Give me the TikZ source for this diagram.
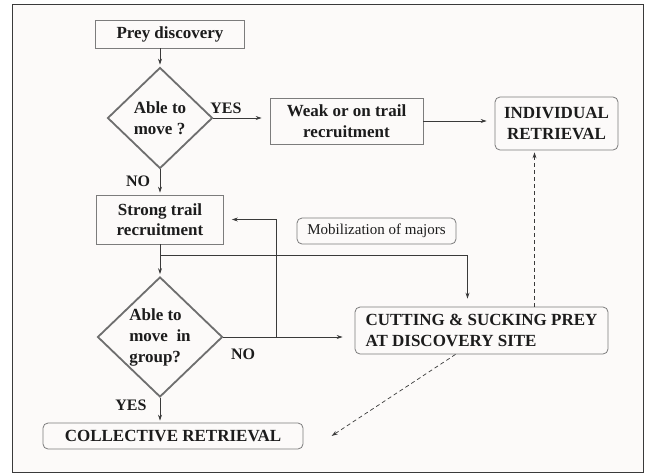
\documentclass[tikz,border=0pt]{standalone}
\usepackage{fontspec}
\setmainfont{Liberation Serif}
\usetikzlibrary{arrows.meta,shapes.geometric,calc}
\definecolor{paper}{HTML}{FCFAF9}
\definecolor{ink}{HTML}{1C1C1C}
\definecolor{wire}{HTML}{3A3A3A}
\definecolor{edgegray}{HTML}{7C7C7C}
\definecolor{rhomb}{HTML}{6E6E6E}
\tikzset{
  sqbox/.style={draw=edgegray,line width=0.8pt,align=center,inner sep=2pt,
                text=ink,font=\fontsize{17}{20.5}\selectfont\bfseries},
  rndbox/.style={sqbox,rounded corners=5pt},
  choice/.style={diamond,draw=rhomb,line width=1.8pt,inner sep=0pt,
                 align=left,text=ink,font=\fontsize{17}{21}\selectfont\bfseries},
  answer/.style={text=ink,inner sep=0pt,font=\fontsize{16}{19}\selectfont\bfseries},
  flow/.style={-{Stealth[length=6pt,width=4pt]},draw=wire,line width=0.7pt,
               shorten >=2pt},
  gapflow/.style={flow,shorten >=8pt},
  dashflow/.style={flow,dashed,dash pattern=on 4pt off 3pt}
}

\begin{document}
\begin{tikzpicture}[x=1pt,y=-1pt]
    \path[use as bounding box] (0,0) rectangle (647,474);
    \draw[wire,fill=paper,line width=1pt] (12,4) rectangle (643,472);
    % boxes and decisions
    \node[sqbox,minimum width=149pt,minimum height=28pt] (prey) at (170,34)
      {Prey discovery};
    \node[choice,minimum width=105pt,minimum height=101pt] (able1) at (160,118)
      {Able to\\move ?};
    \node[sqbox,minimum width=153pt,minimum height=46pt] (weak) at (346.5,121)
      {Weak or on trail\\recruitment};
    \node[rndbox,minimum width=123pt,minimum height=53pt] (indiv) at (556.5,123.5)
      {INDIVIDUAL\\RETRIEVAL};
    \node[sqbox,minimum width=127pt,minimum height=49pt] (strong) at (160,219.5)
      {Strong trail\\recruitment};
    \node[rndbox,font=\fontsize{15}{18}\selectfont,minimum width=159pt,
          minimum height=26pt] (mob) at (376.5,231) {Mobilization of majors};
    \node[choice,minimum width=125pt,minimum height=120pt] (able2) at (160,337)
      {Able to\\move\ \ in\\group?};
    \node[rndbox,align=left,minimum width=253pt,minimum height=47pt] (cut)
      at (481.5,330.5) {CUTTING \& SUCKING PREY\\AT DISCOVERY SITE};
    \node[rndbox,minimum width=260pt,minimum height=26pt] (coll) at (173,436)
      {COLLECTIVE RETRIEVAL};
    % answers
    \node[answer] (yes1) at (226,108) {YES};
    \node[answer] (no1) at (138,181) {NO};
    \node[answer] (no2) at (243,354) {NO};
    \node[answer] (yes2) at (131,405) {YES};
    % connectors
    \coordinate (split) at (160,255);
    \coordinate (loop) at (276,337);
    \coordinate (dashend) at (330,437);
    \draw[flow] (able1.north |- prey.south) -- (able1.north);
    \draw[gapflow] (able1.east) -- (able1.east -| weak.west);
    \draw[gapflow] (weak.east) -- (weak.east -| indiv.west);
    \draw[flow] (able1.south) -- (strong.north);
    \draw[flow] (strong.south) -- (able2.north);
    \draw[gapflow] (split) -| ([xshift=-14pt]cut.north);
    \draw[flow,shorten >=12pt] (able2.east) -- (able2.east -| cut.west);
    \draw[gapflow] (loop) |- (strong.east);
    \draw[flow] (able2.south) -- (able2.south |- coll.north);
    \draw[dashflow] ([xshift=53pt]cut.north) -- ([xshift=53pt]cut.north |- indiv.south);
    \draw[dashflow] ([xshift=-26pt]cut.south) -- (dashend);
  \end{tikzpicture}
\end{document}
